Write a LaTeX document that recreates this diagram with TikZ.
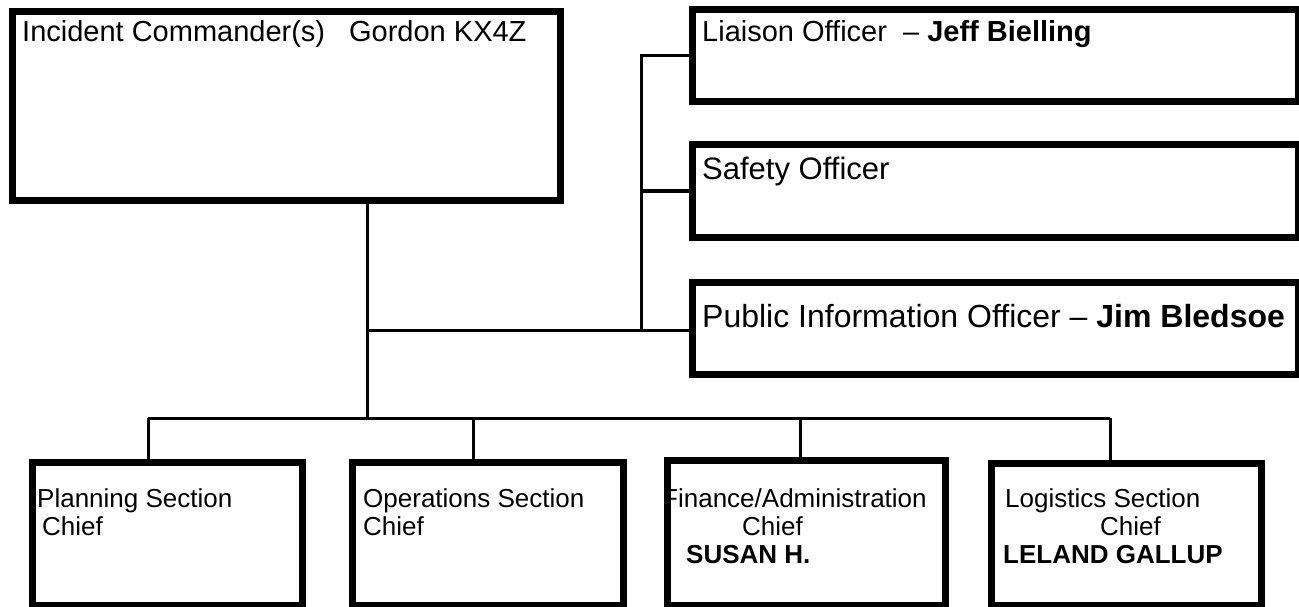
\documentclass[tikz,border=0pt]{standalone}
\usepackage{fontspec}
\setmainfont{Liberation Sans}
\usetikzlibrary{positioning}

\tikzset{
  rolebox/.style={draw, line width=7pt, inner sep=0pt, anchor=north west},
  roletext/.style={anchor=base west, inner sep=0pt, font=\fontsize{#1}{#1}\selectfont},
  roletext/.default=26,
  link/.style={line width=3pt},
}

\begin{document}
\begin{tikzpicture}[x=1pt, y=-1pt]
\useasboundingbox (0,0) rectangle (1299,607);

% Comando
\node[rolebox, minimum width=548pt, minimum height=188pt] (ic) at (8.5,8.5) {};
\node[roletext=29] (ictext) at ([shift={(13.5,33.5)}]ic.north west)
  {Incident Commander(s)\hspace{24pt}Gordon KX4Z};

% Staff
\node[rolebox, minimum width=606pt, minimum height=92pt] (liaison) at (688.5,6) {};
\node[rolebox, minimum width=606pt, minimum height=92pt] (safety) at (688.5,141.5) {};
\node[rolebox, minimum width=606pt, minimum height=92pt] (pio) at (688.5,279) {};
\node[roletext=29] (liaisontext) at ([shift={(13.5,36)}]liaison.north west)
  {Liaison Officer\ \ – \textbf{Jeff Bielling}};
\node[roletext=31] (safetytext) at ([shift={(13.5,37.5)}]safety.north west)
  {Safety Officer};
\node[roletext=32] (piotext) at ([shift={(13.5,48)}]pio.north west)
  {Public Information Officer – \textbf{Jim Bledsoe}};

% Sezioni
\node[rolebox, minimum width=270pt, minimum height=143pt] (planning) at (28.5,459) {};
\node[rolebox, minimum width=271pt, minimum height=143pt] (ops) at (349,459) {};
\node[rolebox, minimum width=278pt, minimum height=145pt] (fin) at (664,457) {};
\node[rolebox, minimum width=270pt, minimum height=142pt] (log) at (988,460) {};

\node[roletext] (plan1) at ([shift={(8.5,48)}]planning.north west) {Planning Section};
\node[roletext] (plan2) at ([shift={(13.5,76)}]planning.north west) {Chief};
\node[roletext] (ops1) at ([shift={(14,48)}]ops.north west) {Operations Section};
\node[roletext] (ops2) at ([shift={(14,76)}]ops.north west) {Chief};
\node[roletext] (fin1) at ([shift={(-2,50)}]fin.north west) {Finance/Administration};
\node[roletext] (fin2) at ([shift={(78,78)}]fin.north west) {Chief};
\node[roletext] (fin3) at ([shift={(22,106)}]fin.north west) {\textbf{SUSAN H.}};
\node[roletext] (log1) at ([shift={(17,47)}]log.north west) {Logistics Section};
\node[roletext] (log2) at ([shift={(112,75)}]log.north west) {Chief};
\node[roletext] (log3) at ([shift={(15,103)}]log.north west) {\textbf{LELAND GALLUP}};

% Linee
\coordinate (hub) at (367,330);
\coordinate (spine) at (641,330);
\coordinate (busL) at (148,418);
\coordinate (busR) at (1110,418);
\draw[link] (ic.south -| hub) -- (hub |- busL);
\draw[link] (hub) -- (hub -| pio.west);
\draw[link] (spine) -- (spine |- liaison.west) -- (liaison.west);
\draw[link] (safety.west -| spine) -- (safety.west);
\draw[link] (busL) -- (busR);
\foreach \n/\x in {planning/148, ops/473, fin/800, log/1110}
  \draw[link] (\x,418) -- (\x,418 |- \n.north);

\end{tikzpicture}
\end{document}
